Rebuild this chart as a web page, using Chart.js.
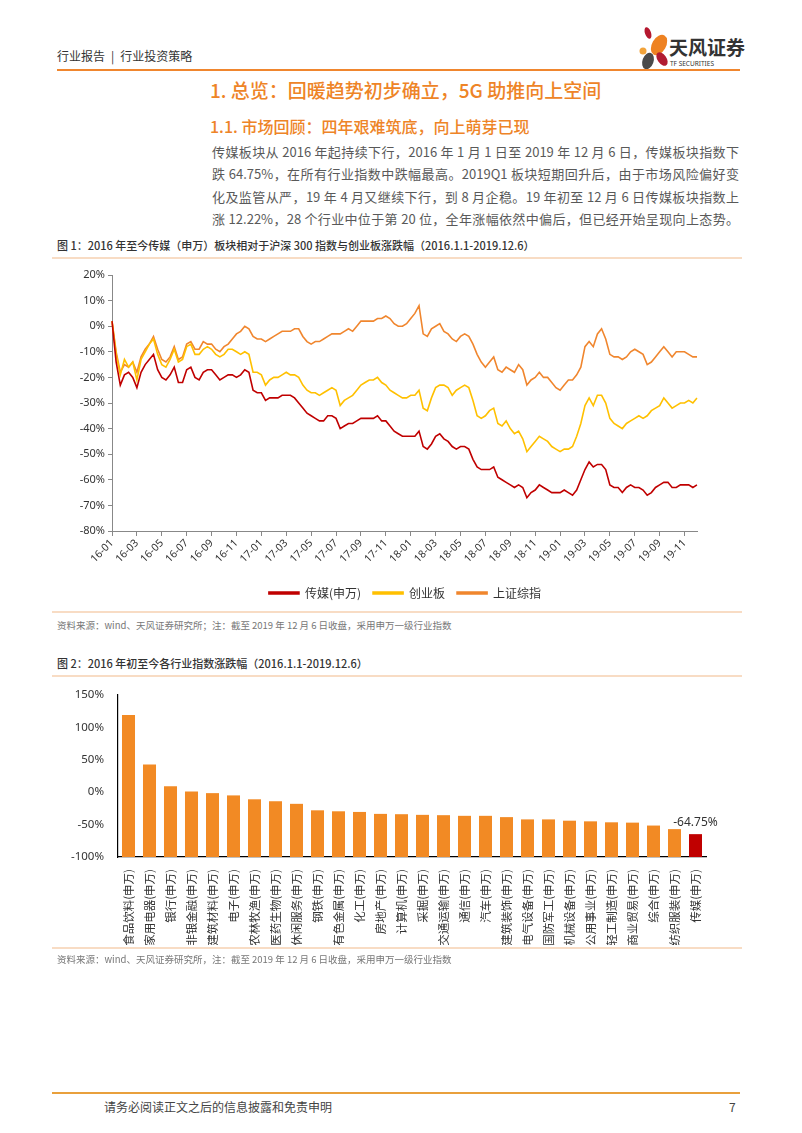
<!DOCTYPE html>
<html>
<head>
<meta charset="utf-8">
<script src="https://cdn.jsdelivr.net/npm/chart.js@4.4.0/dist/chart.umd.min.js"></script>
<style>
  body { margin: 0; background: #fff; font-family: "Noto Sans CJK SC", "Noto Sans", sans-serif; }
  #page { position: relative; width: 802px; height: 1133px; overflow: hidden; background: #fff; }
  .abs { position: absolute; white-space: nowrap; }
  .hdr { left: 57px; top: 47px; font-size: 12px; color: #333; }
  .hdr span { margin: 0 6px; }
  .orange-rule { left: 57px; width: 683px; height: 2px; background: #F0862E; }
  .title { left: 210px; top: 76px; font-size: 19px; color: #EE8427; font-weight: 500; }
  .subtitle { left: 210px; top: 114px; font-size: 16px; color: #EE8427; font-weight: 500; }
  .para { left: 212px; top: 141px; width: 527px; font-size: 13px; line-height: 22.3px; color: #595959; white-space: normal; }
  .para div { text-align: justify; text-align-last: justify; }
  .caption { left: 57px; font-size: 11px; color: #333; font-weight: 500; }
  .thin-rule { left: 52px; width: 690px; height: 2px; background: #F8DCC4; }
  .src { left: 57px; font-size: 9.5px; color: #777; }
  .chartbox { position: absolute; }
  .foot { top: 1098px; font-size: 12px; color: #444; }
</style>
</head>
<body>
<div id="page">
  <div class="abs hdr">行业报告<span>|</span>行业投资策略</div>
  <svg class="abs" style="left:630px;top:24px" width="115" height="48" viewBox="630 24 115 48">
    <ellipse cx="648" cy="33" rx="3" ry="6" transform="rotate(-20 648 33)" fill="#B5172F"/>
    <ellipse cx="659" cy="45" rx="7" ry="11" transform="rotate(30 659 45)" fill="#EE8222"/>
    <circle cx="643" cy="51" r="3.5" fill="#F2A33A"/>
    <ellipse cx="648" cy="61" rx="5.5" ry="8.5" transform="rotate(20 648 61)" fill="#4A4A4A"/>
    <ellipse cx="662" cy="59" rx="4.5" ry="7.5" transform="rotate(-35 662 59)" fill="#B11C32"/>
    <text x="669" y="55" font-size="19" font-weight="bold" fill="#333" font-family="Noto Sans CJK SC">天风证券</text>
    <text x="670" y="66" font-size="6.5" fill="#333" font-family="Noto Sans">TF SECURITIES</text>
  </svg>
  <div class="abs orange-rule" style="top:69px"></div>

  <div class="abs title">1. 总览：回暖趋势初步确立，5G 助推向上空间</div>
  <div class="abs subtitle">1.1. 市场回顾：四年艰难筑底，向上萌芽已现</div>
  <div class="abs para">
    <div>传媒板块从 2016 年起持续下行，2016 年 1 月 1 日至 2019 年 12 月 6 日，传媒板块指数下</div>
    <div>跌 64.75%，在所有行业指数中跌幅最高。2019Q1 板块短期回升后，由于市场风险偏好变</div>
    <div>化及监管从严，19 年 4 月又继续下行，到 8 月企稳。19 年初至 12 月 6 日传媒板块指数上</div>
    <div>涨 12.22%，28 个行业中位于第 20 位，全年涨幅依然中偏后，但已经开始呈现向上态势。</div>
  </div>

  <div class="abs caption" style="top:237px">图 1：2016 年至今传媒（申万）板块相对于沪深 300 指数与创业板涨跌幅（2016.1.1-2019.12.6）</div>
  <div class="abs thin-rule" style="top:257px"></div>
  <div class="chartbox" style="left:52px;top:262px;width:706px;height:347px"><canvas id="lineChart"></canvas></div>
  <div class="abs thin-rule" style="top:611px"></div>
  <div class="abs src" style="top:618px">资料来源：wind、天风证券研究所；注：截至 2019 年 12 月 6 日收盘，采用申万一级行业指数</div>

  <div class="abs caption" style="top:655px">图 2：2016 年初至今各行业指数涨跌幅（2016.1.1-2019.12.6）</div>
  <div class="abs thin-rule" style="top:675px"></div>
  <div class="chartbox" style="left:52px;top:682px;width:710px;height:276px"><canvas id="barChart"></canvas></div>
  <div class="abs thin-rule" style="top:947px"></div>
  <div class="abs src" style="top:952px">资料来源：wind、天风证券研究所，注：截至 2019 年 12 月 6 日收盘，采用申万一级行业指数</div>

  <div class="abs" style="left:52px;top:1092px;width:688px;height:2px;background:#E9A03C"></div>
  <div class="abs foot" style="left:104px">请务必阅读正文之后的信息披露和免责申明</div>
  <div class="abs foot" style="left:729px">7</div>
</div>

<script>
// figure 1: cumulative change since 2016-01-01 (%), about three readings per month
const tickLabels = ['16-01', '16-03', '16-05', '16-07', '16-09', '16-11',
                    '17-01', '17-03', '17-05', '17-07', '17-09', '17-11',
                    '18-01', '18-03', '18-05', '18-07', '18-09', '18-11',
                    '19-01', '19-03', '19-05', '19-07', '19-09', '19-11'];

const mediaIdx = [
  2, -14, -23,  -19, -18, -20,  -24, -18, -15,  -13, -11, -17,  -20, -21, -19,  -16, -22, -22,
  -17, -16, -20,  -21, -18, -17,  -17, -19, -21,  -20, -19, -19,  -20, -19, -17,  -18, -25, -26,
  -26, -29, -28,  -28, -28, -27,  -27, -27, -28,  -30, -32, -34,  -35, -36, -37,  -37, -35, -35,
  -36, -40, -39,  -38, -38, -37,  -36, -36, -36,  -36, -35, -37,  -37, -39, -41,  -42, -43, -43,
  -43, -43, -41,  -47, -48, -46,  -43, -42, -44,  -45, -47, -48,  -47, -47, -48,  -52, -55, -56,
  -56, -56, -55,  -59, -60, -61,  -62, -63, -62,  -63, -67, -65,  -64, -62, -63,  -64, -65, -65,
  -65, -64, -65,  -66, -64, -60,  -56, -53, -55,  -54, -54, -56,  -62, -63, -63,  -65, -63, -62,
  -63, -63, -64,  -66, -65, -63,  -62, -61, -61,  -63, -63, -62,  -62, -62, -63,  -62
];

const chinextIdx = [
  2, -11, -19,  -13, -16, -14,  -21, -13, -10,  -7, -5, -11,  -15, -16, -13,  -9, -14, -13,
  -8, -7, -11,  -11, -9, -8,  -9, -11, -12,  -11, -9, -9,  -10, -11, -10,  -11, -18, -18,
  -19, -23, -21,  -20, -20, -19,  -18, -19, -19,  -20, -23, -25,  -26, -26, -27,  -26, -25, -24,
  -25, -31, -29,  -28, -27, -25,  -23, -22, -21,  -21, -20, -22,  -23, -25, -26,  -27, -28, -28,
  -27, -27, -25,  -32, -33, -28,  -24, -23, -23,  -24, -27, -25,  -24, -23, -24,  -29, -35, -36,
  -35, -33, -32,  -38, -39, -37,  -40, -42, -41,  -44, -49, -47,  -45, -43, -44,  -45, -47, -48,
  -49, -48, -48,  -47, -43, -38,  -31, -28, -31,  -27, -27, -30,  -36, -38, -39,  -40, -38, -37,
  -36, -35, -36,  -35, -33, -32,  -31, -28, -30,  -32, -31, -30,  -30, -29, -30,  -28
];

const shCompIdx = [
  2, -10, -18,  -15, -16, -14,  -18, -12, -9,  -7, -4, -9,  -13, -14, -12,  -8, -13, -12,
  -7, -6, -9,  -9, -6, -7,  -7, -9, -10,  -8, -7, -5,  -3, -2, 0,  -1, -4, -5,
  -5, -6, -5,  -4, -3, -2,  -2, -2, -1,  -1, -4, -6,  -7, -6, -6,  -5, -4, -3,
  -3, -3, -2,  -1, -2, 0,  2, 2, 2,  2, 3, 3,  4, 3, 1,  0, 0, 1,
  3, 5, 8,  -3, -4, -1,  0, 1, -2,  -3, -5, -6,  -4, -3, -4,  -7, -11, -14,
  -16, -14, -12,  -17, -18, -16,  -17, -18, -15,  -17, -23, -21,  -20, -18, -20,  -20, -22, -24,
  -25, -23, -21,  -21, -19, -16,  -8, -6, -8,  -3, -1, -5,  -11, -12, -12,  -13, -12, -10,
  -9, -10, -11,  -15, -14, -12,  -10, -8, -10,  -12, -10, -10,  -10, -11, -12,  -12
];

const seriesNames = ['传媒(申万)', '创业板', '上证综指'];

// figure 2: change by SW level-1 industry (%)
const industries = ['食品饮料(申万)', '家用电器(申万)', '银行(申万)', '非银金融(申万)', '建筑材料(申万)',
  '电子(申万)', '农林牧渔(申万)', '医药生物(申万)', '休闲服务(申万)', '钢铁(申万)', '有色金属(申万)',
  '化工(申万)', '房地产(申万)', '计算机(申万)', '采掘(申万)', '交通运输(申万)', '通信(申万)',
  '汽车(申万)', '建筑装饰(申万)', '电气设备(申万)', '国防军工(申万)', '机械设备(申万)',
  '公用事业(申万)', '轻工制造(申万)', '商业贸易(申万)', '综合(申万)', '纺织服装(申万)', '传媒(申万)'];
const industryChange = [119, 42.5, 9, 1, -1.5, -5, -11, -14, -18, -28, -29.5, -30.5, -33.5, -34,
  -35, -35.5, -36.5, -36.5, -38.5, -42, -42, -44, -45, -46.5, -47, -51.5, -57, -64.75];
const barNote = '-64.75%';

const RED = '#C00000';
const YELLOW = '#FFC000';
const ORANGE = '#F0862E';
const BAR = '#F28A24';

Chart.defaults.font.family = '"Noto Sans", "Noto Sans CJK SC", sans-serif';
Chart.defaults.color = '#333';
Chart.defaults.animation = false;

// one label per point, month name on the first point of each month
const pointLabels = mediaIdx.map((v, i) => (i % 6 === 0 ? tickLabels[i / 6] : ''));

function lineSet(label, data, color) {
  return {
    label: label,
    data: data,
    borderColor: color,
    backgroundColor: color,
    borderWidth: 1.6,
    pointRadius: 0,
    tension: 0
  };
}

new Chart(document.getElementById('lineChart'), {
  type: 'line',
  data: {
    labels: pointLabels,
    datasets: [
      lineSet(seriesNames[0], mediaIdx, RED),
      lineSet(seriesNames[1], chinextIdx, YELLOW),
      lineSet(seriesNames[2], shCompIdx, ORANGE)
    ]
  },
  options: {
    responsive: true,
    maintainAspectRatio: false,
    layout: { padding: { top: 13, right: 0, left: 0, bottom: 0 } },
    plugins: {
      tooltip: { enabled: false },
      legend: {
        position: 'bottom',
        labels: {
          boxWidth: 30,
          boxHeight: 2,
          padding: 12,
          font: { size: 12, family: '"Noto Sans CJK SC", sans-serif' },
          color: '#333'
        }
      }
    },
    scales: {
      x: {
        type: 'category',
        offset: false,
        grid: {
          drawOnChartArea: false,
          tickLength: 5,
          tickColor: (ctx) => (ctx.index % 6 === 0 ? '#888' : 'rgba(0,0,0,0)')
        },
        border: { color: '#888', width: 1 },
        ticks: {
          autoSkip: false,
          maxRotation: 45,
          minRotation: 45,
          padding: 1,
          font: { size: 10.5 },
          callback: function (value, index) {
            return index % 6 === 0 ? tickLabels[index / 6] : '';
          }
        },
        afterFit: (s) => { s.height = 44; }
      },
      y: {
        min: -80,
        max: 20,
        grid: { drawOnChartArea: false, tickLength: 4, color: '#888' },
        border: { color: '#888', width: 1 },
        ticks: {
          stepSize: 10,
          padding: 3,
          font: { size: 11 },
          callback: (v) => v + '%'
        },
        afterFit: (s) => { s.width = 60; }
      },
      // empty right axis only reserves room so the legend centres like the original
      yPad: {
        position: 'right',
        display: true,
        grid: { display: false },
        border: { display: false },
        ticks: { display: false },
        afterFit: (s) => { s.width = 61; }
      }
    }
  }
});

// write the value above the last (highlighted) bar
const lastBarLabel = {
  id: 'lastBarLabel',
  afterDatasetsDraw(chart) {
    const meta = chart.getDatasetMeta(0);
    const bar = meta.data[meta.data.length - 1];
    const ctx = chart.ctx;
    ctx.save();
    ctx.font = '12px "Noto Sans", sans-serif';
    ctx.fillStyle = '#333';
    ctx.textAlign = 'center';
    ctx.textBaseline = 'bottom';
    ctx.fillText(barNote, bar.x, bar.y - 6);
    ctx.restore();
  }
};

new Chart(document.getElementById('barChart'), {
  type: 'bar',
  data: {
    labels: industries,
    datasets: [{
      data: industryChange,
      backgroundColor: industryChange.map((v, i) => (i === industryChange.length - 1 ? RED : BAR)),
      barPercentage: 0.62,
      categoryPercentage: 1.0,
      base: -100
    }]
  },
  plugins: [lastBarLabel],
  options: {
    responsive: true,
    maintainAspectRatio: false,
    layout: { padding: { top: 3, right: 56, left: 0, bottom: 13 } },
    plugins: {
      legend: { display: false },
      tooltip: { enabled: false }
    },
    scales: {
      x: {
        grid: { display: false },
        border: { color: '#000', width: 1.2 },
        ticks: {
          autoSkip: false,
          maxRotation: 90,
          minRotation: 90,
          padding: 4,
          color: '#333',
          font: { size: 11.5, family: '"Noto Sans CJK SC", sans-serif' }
        },
        afterFit: (s) => { s.height = 88; }
      },
      y: {
        min: -100,
        max: 150,
        grid: { display: false },
        border: { color: '#000', width: 1.2 },
        ticks: {
          stepSize: 50,
          padding: 6,
          font: { size: 11.5 },
          callback: (v) => v + '%'
        },
        afterFit: (s) => { s.width = 66; }
      }
    }
  }
});
</script>
</body>
</html>
